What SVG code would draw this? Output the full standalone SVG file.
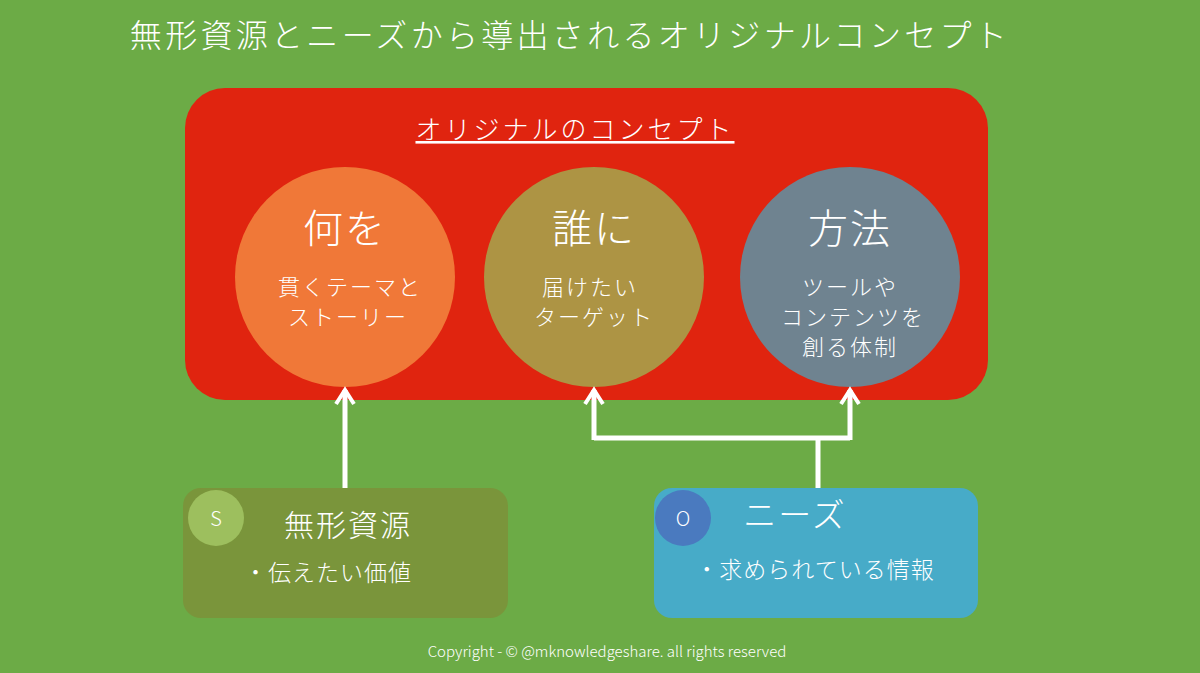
<svg xmlns="http://www.w3.org/2000/svg" width="1200" height="673" viewBox="0 0 1200 673">
<defs>
<style>
text{font-family:"Noto Sans CJK JP","Noto Sans",sans-serif;font-weight:300;fill:#fff;text-anchor:middle}
.h{font-size:40px;letter-spacing:2px}.s{font-size:22px;letter-spacing:2px}
.c{fill:none;stroke:#fff;stroke-width:5}
</style>
<marker id="a" markerWidth="22" markerHeight="22" refX="18" refY="11" orient="auto" markerUnits="userSpaceOnUse" viewBox="0 0 22 22"><path d="M4,2 L18,11 L4,20" fill="none" stroke="#fff" stroke-width="4"/></marker>
</defs>
<rect width="1200" height="673" fill="#6cab46"/>
<text x="570" y="47" font-size="32" letter-spacing="3.3" fill="#f2f2f2">無形資源とニーズから導出されるオリジナルコンセプト</text>
<g id="concept">
<rect x="185" y="88" width="803" height="312" rx="40" fill="#e0240f"/>
<text x="575" y="139" font-size="26" letter-spacing="3" text-decoration="underline">オリジナルのコンセプト</text>
</g>
<g id="what"><circle cx="345" cy="277" r="110" fill="#f07838"/>
<text class="h" x="345" y="243">何を</text><text class="s" x="350" y="295">貫くテーマと</text><text class="s" x="348" y="325">ストーリー</text></g>
<g id="who"><circle cx="594" cy="277" r="110" fill="#ad9444"/>
<text class="h" x="594" y="243">誰に</text><text class="s" x="590" y="295">届けたい</text><text class="s" x="594" y="325">ターゲット</text></g>
<g id="how"><circle cx="850" cy="277" r="110" fill="#6f8390"/>
<text class="h" x="850" y="243">方法</text><text class="s" x="850" y="295">ツールや</text><text class="s" x="853" y="325">コンテンツを</text><text class="s" x="850" y="355">創る体制</text></g>
<g id="connectors">
<path class="c" d="M345,488 V390" marker-end="url(#a)"/>
<path class="c" d="M818,488 V438"/>
<path class="c" d="M594,438 H850"/>
<path class="c" d="M594,440 V390" marker-end="url(#a)"/>
<path class="c" d="M850,440 V390" marker-end="url(#a)"/>
</g>
<g id="s"><rect x="183" y="488" width="325" height="130" rx="18" fill="#7a953b"/>
<circle cx="216" cy="518" r="28" fill="#9dbf5e"/><text x="216" y="526" font-size="20" font-family="Noto Sans">S</text>
<text x="348" y="536" font-size="30" letter-spacing="2">無形資源</text><text x="328" y="581" font-size="23" letter-spacing="1">・伝えたい価値</text></g>
<g id="o"><rect x="654" y="488" width="324" height="130" rx="18" fill="#47abc8"/>
<circle cx="683" cy="518" r="28" fill="#4a7abf"/><text x="683" y="526" font-size="20" font-family="Noto Sans">O</text>
<text x="795" y="527" font-size="33" letter-spacing="2">ニーズ</text><text x="815" y="578" font-size="23" letter-spacing="1">・求められている情報</text></g>
<text x="607" y="657" font-size="15" fill="#e8efe0" font-family="Roboto,sans-serif">Copyright - © @mknowledgeshare. all rights reserved</text>
</svg>
